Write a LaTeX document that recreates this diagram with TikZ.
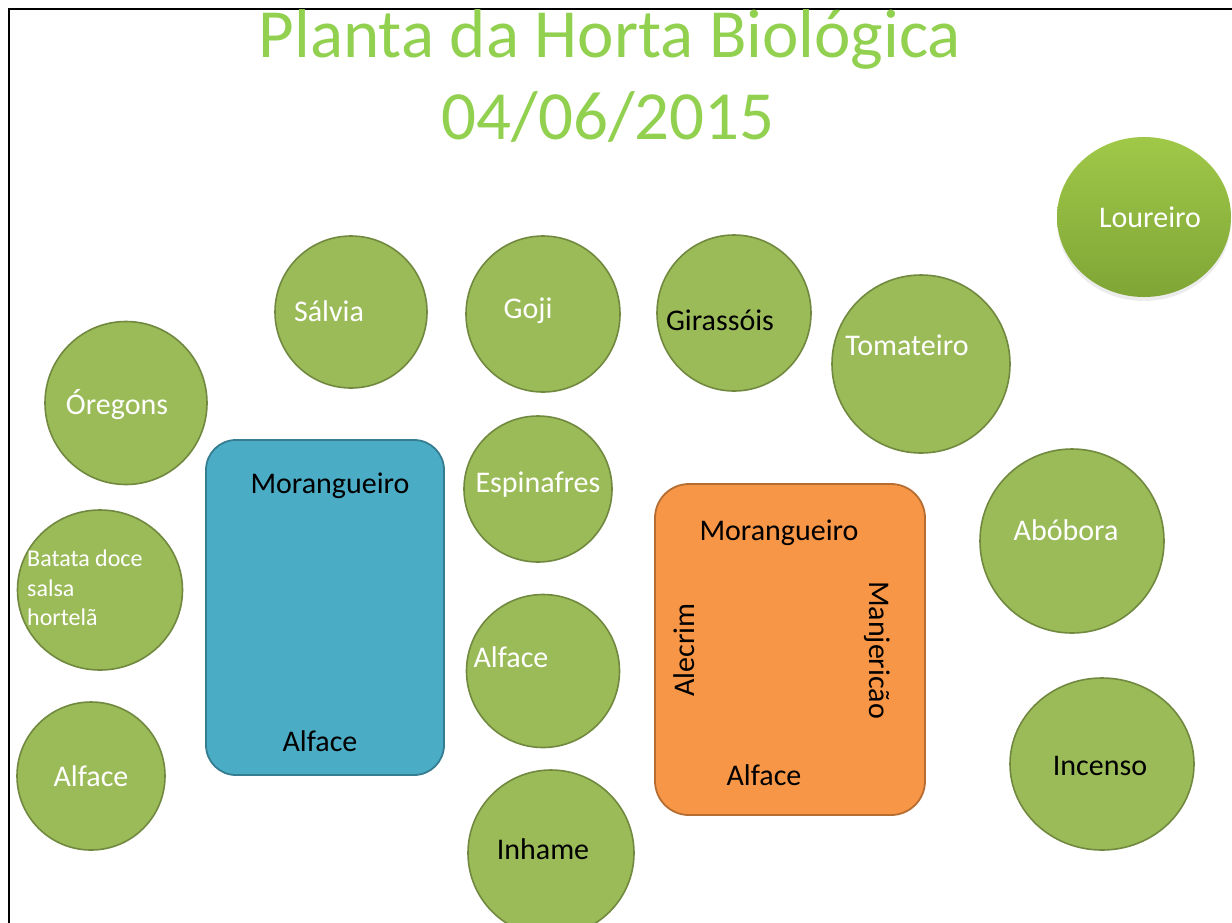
\documentclass[tikz,border=0pt]{standalone}
\usepackage{fontspec}
\setmainfont{Carlito}
\usetikzlibrary{shapes.geometric,shadows}
\definecolor{leaf}{HTML}{9BBB59}
\definecolor{leafline}{HTML}{71893F}
\definecolor{laurtop}{HTML}{A0C848}
\definecolor{laurbot}{HTML}{7FA536}
\definecolor{titlegreen}{HTML}{92D050}
\definecolor{bedblue}{HTML}{4BACC6}
\definecolor{bedblueline}{HTML}{357D91}
\definecolor{bedorange}{HTML}{F79646}
\definecolor{bedorangeline}{HTML}{B66D31}
\tikzset{
  plant/.style={ellipse, draw=leafline, line width=1.6pt, fill=leaf, inner sep=0pt},
  bed/.style={rounded corners=30pt, line width=1.8pt},
  wlabel/.style={text=white, font=\fontsize{30}{36}\selectfont, inner sep=0pt},
  blabel/.style={text=black, font=\fontsize{30}{36}\selectfont, inner sep=0pt},
  title/.style={text=titlegreen, font=\fontsize{69}{82}\selectfont, inner sep=0pt}
}
\begin{document}
\begin{tikzpicture}[x=1pt,y=-1pt]
\useasboundingbox (0,0) rectangle (1232,922);
\fill[white] (0,0) rectangle (1232,922);
% frame
\coordinate (fbl) at (9,925);
\coordinate (ftl) at (9,9);
\coordinate (ftr) at (1235,9);
\draw[line width=2pt] (fbl) -- (ftl) -- (ftr);
% title
\node[title, anchor=base] (t1) at (610,57) {Planta da Horta Biológica};
\node[title, anchor=base] (t2) at (608,139) {04/06/2015};
% Loureiro
\node[ellipse, minimum width=174pt, minimum height=160pt, inner sep=0pt,
      top color=laurtop, bottom color=laurbot,
      drop shadow={shadow xshift=0pt, shadow yshift=-4pt, opacity=0.15}] (lou) at (1144,217) {};
\node[wlabel] (lout) at (1150,217) {Loureiro};
% circles
\node[plant, minimum width=152pt, minimum height=152pt] (salvia) at (351,312) {};
\node[wlabel] (salviat) at (329,311) {Sálvia};
\node[plant, minimum width=154pt, minimum height=156pt] (goji) at (543,314) {};
\node[wlabel] (gojit) at (528,311) {Goji};
\node[plant, minimum width=154pt, minimum height=156pt] (gira) at (734,313) {};
\node[blabel] (girat) at (720,320) {Girassóis};
\node[plant, minimum width=178pt, minimum height=178pt] (toma) at (921,364) {};
\node[wlabel] (tomat) at (907,345) {Tomateiro};
\node[plant, minimum width=162pt, minimum height=163pt] (oreg) at (126,403) {};
\node[wlabel] (oregt) at (117,405) {Óregons};
\node[plant, minimum width=148pt, minimum height=146pt] (espi) at (538,489) {};
\node[wlabel] (espit) at (538,485) {Espinafres};
\node[plant, minimum width=165pt, minimum height=160pt] (bata) at (100,590) {};
\node[text=white, font=\fontsize{24}{29.5}\selectfont, align=left, anchor=west, inner sep=0pt] (batat) at (27,588) {Batata doce\\salsa\\hortelã};
\node[plant, minimum width=153pt, minimum height=153pt] (alfm) at (543,671) {};
\node[wlabel] (alfmt) at (511,657) {Alface};
\node[plant, minimum width=148pt, minimum height=148pt] (alfl) at (91,776) {};
\node[wlabel] (alflt) at (91,776) {Alface};
\node[plant, minimum width=166pt, minimum height=166pt] (inha) at (551,853) {};
\node[blabel] (inhat) at (543,849) {Inhame};
\node[plant, minimum width=184pt, minimum height=184pt] (abob) at (1072,541) {};
\node[wlabel] (abobt) at (1066,530) {Abóbora};
\node[plant, minimum width=184pt, minimum height=172pt] (ince) at (1102,764) {};
\node[blabel] (incet) at (1100,766) {Incenso};
% beds
\draw[bed, fill=bedblue, draw=bedblueline] (206,440) rectangle (444,775);
\node[blabel] (bm) at (330,486) {Morangueiro};
\node[blabel] (ba) at (320,741) {Alface};
\draw[bed, rounded corners=34pt, fill=bedorange, draw=bedorangeline] (655,484) rectangle (925,815);
\node[blabel] (om) at (779,533) {Morangueiro};
\node[blabel, rotate=90] (oal) at (684,650) {Alecrim};
\node[blabel, rotate=-90] (oma) at (877,650) {Manjericão};
\node[blabel] (oaf) at (764,775) {Alface};
\end{tikzpicture}
\end{document}
